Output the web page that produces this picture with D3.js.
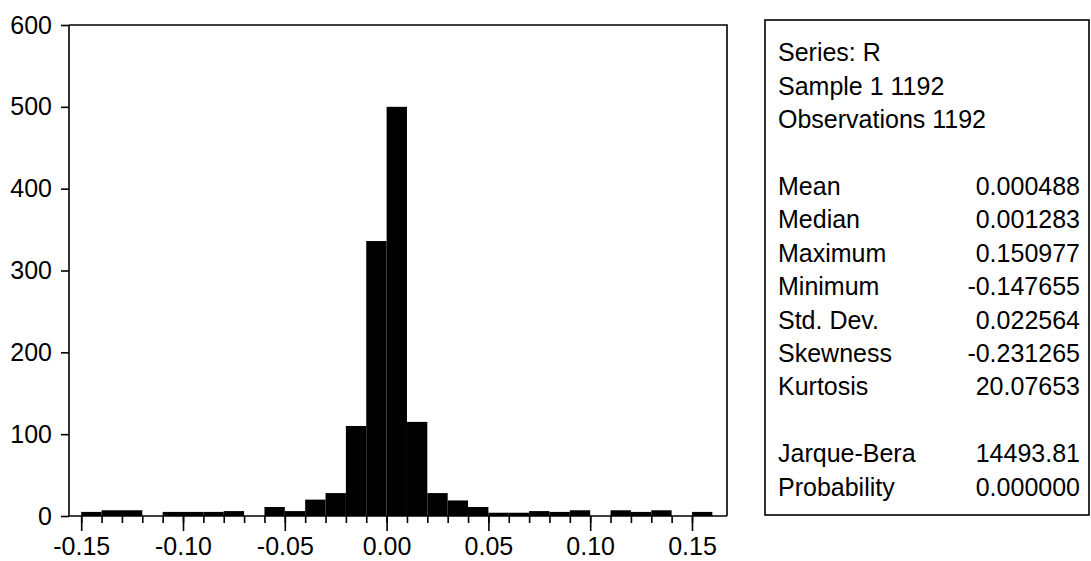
<!DOCTYPE html>
<html>
<head>
<meta charset="utf-8">
<script src="https://cdn.jsdelivr.net/npm/d3@7"></script>
<style>
  html, body { margin: 0; padding: 0; background: #fff; }
  svg { display: block; }
  text { font-family: "Liberation Sans", Arial, sans-serif; fill: #000; }
</style>
</head>
<body>
<svg id="chart" width="1091" height="561"></svg>
<script>
// ---- data ----
const binStarts = [-0.15,-0.14,-0.13,-0.12,-0.11,-0.10,-0.09,-0.08,-0.07,-0.06,-0.05,-0.04,-0.03,-0.02,-0.01,
                   0.00,0.01,0.02,0.03,0.04,0.05,0.06,0.07,0.08,0.09,0.10,0.11,0.12,0.13,0.14,0.15];
const counts    = [5,7,7,0,5,5,5,6,0,11,6,20,28,110,336,
                   500,115,28,19,11,4,4,6,5,7,0,7,5,7,0,5];
const binWidth = 0.01;
const xTickValues = [-0.15,-0.10,-0.05,0.00,0.05,0.10,0.15];
const xTickLabels = ["-0.15","-0.10","-0.05","0.00","0.05","0.10","0.15"];
const yTickValues = [0,100,200,300,400,500,600];
const statLabels = ["Series: R","Sample 1 1192","Observations 1192","","Mean","Median","Maximum","Minimum","Std. Dev.","Skewness","Kurtosis","","Jarque-Bera","Probability"];
const statValues = ["","","","","0.000488","0.001283","0.150977","-0.147655","0.022564","-0.231265","20.07653","","14493.81","0.000000"];

// ---- layout ----
const svg = d3.select("#chart");
const frame = {left: 69, right: 727, top: 25, bottom: 516};
const x = d3.scaleLinear().domain([-0.156, 0.1672]).range([frame.left, frame.right]);
const y = d3.scaleLinear().domain([0, 600]).range([frame.bottom, frame.top]);
const fontSize = 25;

// bars
svg.append("g").selectAll("rect")
  .data(binStarts.map((s, i) => ({s, c: counts[i]})).filter(d => d.c > 0))
  .enter().append("rect")
  .attr("x", d => x(d.s))
  .attr("width", d => x(d.s + binWidth) - x(d.s))
  .attr("y", d => y(d.c))
  .attr("height", d => y(0) - y(d.c))
  .attr("fill", "#000");

// frame (top and right)
svg.append("path")
  .attr("d", `M${frame.left},${frame.top}H${frame.right}V${frame.bottom}`)
  .attr("fill", "none").attr("stroke", "#000").attr("stroke-width", 1.6);

// y axis
const yAxis = d3.axisLeft(y).tickValues(yTickValues).tickSize(8).tickPadding(9).tickFormat(d3.format("d"));
const gy = svg.append("g").attr("transform", `translate(${frame.left},0)`).call(yAxis);
gy.select(".domain").attr("stroke-width", 1.6).attr("d", `M0,${frame.top}V${frame.bottom}`);
gy.selectAll(".tick line").attr("stroke-width", 1.6);
gy.selectAll(".tick text").attr("font-size", fontSize).attr("font-family", "Liberation Sans, Arial, sans-serif");

// x axis minor ticks
const minorTicks = d3.range(-15, 16).map(v => v / 100);
const xMinor = d3.axisBottom(x).tickValues(minorTicks).tickSize(7).tickFormat("");
const gxm = svg.append("g").attr("transform", `translate(0,${frame.bottom})`).call(xMinor);
gxm.select(".domain").remove();
gxm.selectAll(".tick line").attr("stroke-width", 1.6);

// x axis major
const xAxis = d3.axisBottom(x).tickValues(xTickValues).tickSize(15).tickPadding(6)
  .tickFormat((d, i) => xTickLabels[i]);
const gx = svg.append("g").attr("transform", `translate(0,${frame.bottom})`).call(xAxis);
gx.select(".domain").attr("stroke-width", 1.6).attr("d", `M${frame.left},0H${frame.right}`);
gx.selectAll(".tick line").attr("stroke-width", 1.6);
gx.selectAll(".tick text").attr("font-size", fontSize).attr("font-family", "Liberation Sans, Arial, sans-serif");

// stats box
const box = {left: 765, right: 1089, top: 20, bottom: 515};
svg.append("rect")
  .attr("x", box.left).attr("y", box.top)
  .attr("width", box.right - box.left).attr("height", box.bottom - box.top)
  .attr("fill", "none").attr("stroke", "#000").attr("stroke-width", 1.6);

const rowY = d3.scaleLinear().domain([0, 1]).range([61.4, 61.4 + 33.4]);
const rows = svg.append("g").selectAll("g").data(statLabels).enter().append("g");
rows.append("text")
  .attr("x", 778).attr("y", (d, i) => rowY(i))
  .attr("font-size", fontSize)
  .text(d => d);
rows.append("text")
  .attr("x", 1080).attr("y", (d, i) => rowY(i))
  .attr("font-size", fontSize).attr("text-anchor", "end")
  .text((d, i) => statValues[i]);
</script>
</body>
</html>
